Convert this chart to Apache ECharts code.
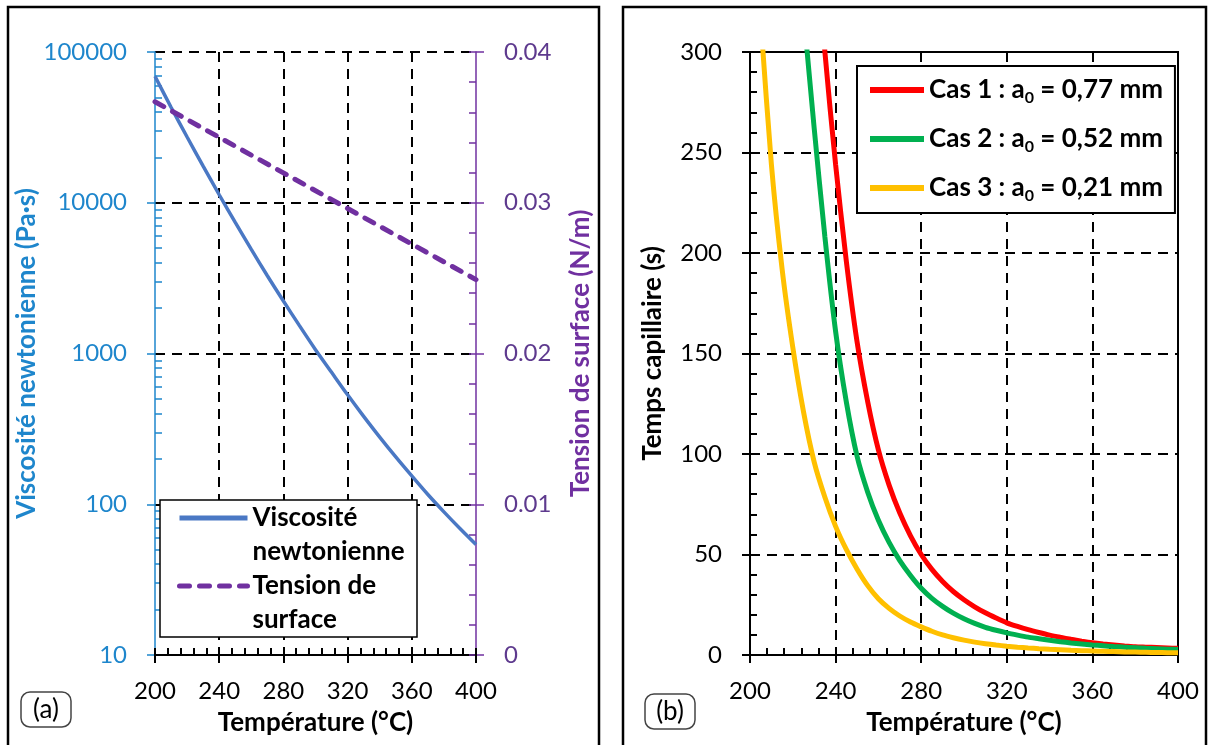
<!DOCTYPE html>
<html>
<head>
<meta charset="utf-8">
<script src="https://cdn.jsdelivr.net/npm/echarts@6/dist/echarts.min.js"></script>
<style>
html,body{margin:0;padding:0;background:#fff;}
#chart{width:1212px;height:745px;}
</style>
</head>
<body>
<div id="chart"></div>
<script>
// ---------- DATA ----------
// Panel (a)
const tempsA = [200,210,220,230,240,250,260,270,280,290,300,310,320,330,340,350,360,370,380,390,400];
const viscosite = [69000,43000,27300,17500,11300,7400,4900,3280,2230,1530,1060,750,532,383,279,206,154,116,89,69,54];
const tempsTension = [200,240,280,320,360,400];
const tension = [0.0367,0.03434,0.03198,0.02962,0.02726,0.0249];
// Panel (b)
const tempsB = [200,205,210,215,220,225,230,235,240,245,250,255,260,265,270,275,280,285,290,295,300,
                305,310,315,320,325,330,335,340,345,350,355,360,365,370,375,380,385,390,395,400];
const cas1 = [null,null,null,null,null,null,370,300,244,196,156,126,102,84.5,70.6,59.3,50,42.6,36.6,31.6,27.5,
              24.0,21.0,18.4,16.0,14.2,12.6,11.2,9.9,8.8,7.8,6.9,6.1,5.5,5.0,4.5,4.1,3.9,3.7,3.5,3.3];
const cas2 = [null,null,null,null,null,320,262,208,161,126,99,81,67,56,47,39.6,33.2,28.2,24.2,20.8,18.0,
              15.7,13.8,12.3,11.0,9.9,8.9,8.1,7.3,6.6,6.0,5.5,5.0,4.6,4.2,3.9,3.6,3.3,3.1,2.9,2.7];
const cas3 = [null,316,244,192,153,121,96,78.5,64,52.5,42.8,34.5,28,23.2,19.4,16.4,14.0,11.8,10.0,8.6,7.4,
              6.4,5.6,4.95,4.4,3.9,3.5,3.15,2.85,2.6,2.35,2.15,2.0,1.85,1.7,1.55,1.45,1.35,1.25,1.15,1.1];
const casNames = ['Cas 1','Cas 2','Cas 3'];
const casLabels = ['Cas 1 : a{sub|0} = 0,77 mm','Cas 2 : a{sub|0} = 0,52 mm','Cas 3 : a{sub|0} = 0,21 mm'];
const seriesA = ['Viscosité newtonienne','Tension de surface'];
const legendA = ['\nViscosité\nnewtonienne','\nTension de\nsurface'];
const xTicks = {min:200,max:400,interval:40};

// ---------- STYLE ----------
const FONT = 'Lato';
const BLUE = '#1e86cc';
const PURPLE = '#7030a0';
const pair = (xs, ys) => xs.map((x,i) => [x, ys[i]]);
const logMinor = [];
[10,100,1000,10000].forEach(d => { for (let k=2;k<=9;k++) logMinor.push(d*k); });

const gridA = {left:155, right:736, top:52, bottom:90};
const gridB = {left:750, right:34, top:52, bottom:90};
const labelStyle = {fontFamily:FONT, fontSize:24, color:'#000'};
const nameStyle = {fontFamily:FONT, fontSize:26, fontWeight:'bold', color:'#000'};
const gridDash = {show:true, lineStyle:{color:'#000', width:2, type:[10,7]}};

function mainX(grid){
  return {type:'value', gridIndex:grid, min:xTicks.min, max:xTicks.max, interval:xTicks.interval, position:'bottom',
    name:'Température (°C)', nameLocation:'middle', nameGap:55, nameTextStyle:nameStyle,
    axisLine:{show:true, onZero:false, lineStyle:{color:'#000', width:2}},
    axisTick:{show:true, inside:false, length:8, lineStyle:{color:'#000', width:2}},
    axisLabel:Object.assign({margin:24}, labelStyle),
    splitLine:Object.assign({showMinLine:false, showMaxLine:false}, gridDash)};
}
function overlayX(grid){
  return {type:'value', gridIndex:grid, min:xTicks.min, max:xTicks.max, interval:xTicks.interval, position:'bottom',
    axisLine:{show:false, onZero:false}, axisLabel:{show:false}, splitLine:{show:false},
    axisTick:{show:true, inside:true, length:7, lineStyle:{color:'#000', width:2}},
    minorTick:{show:true, splitNumber:5, length:7, lineStyle:{color:'#000', width:2}}};
}

const option = {
  animation:false,
  backgroundColor:'#fff',
  textStyle:{fontFamily:FONT},
  grid:[
    Object.assign({show:false}, gridA),
    Object.assign({show:true, borderColor:'#000', borderWidth:2, backgroundColor:'transparent'}, gridB)
  ],
  xAxis:[mainX(0), overlayX(0), mainX(1), overlayX(1)],
  yAxis:[
    {type:'log', logBase:10, gridIndex:0, min:10, max:100000, splitNumber:4, position:'left',
     name:'Viscosité newtonienne (Pa·s)', nameLocation:'middle', nameRotate:90, nameGap:105,
     nameTextStyle:Object.assign({}, nameStyle, {color:BLUE}),
     axisLine:{show:true, onZero:false, lineStyle:{color:BLUE, width:1.5}},
     axisTick:{show:true, inside:false, length:8, lineStyle:{color:BLUE, width:1.5}},
     axisLabel:Object.assign({}, labelStyle, {color:BLUE, margin:28, formatter:v => String(Math.round(v))}),
     splitLine:Object.assign({showMinLine:false}, gridDash)},
    {type:'log', logBase:10, gridIndex:0, min:10, max:100000, position:'left',
     axisLine:{show:false}, axisLabel:{show:false}, splitLine:{show:false},
     axisTick:{show:true, inside:true, length:7, customValues:logMinor, lineStyle:{color:BLUE, width:1.5}}},
    {type:'value', gridIndex:0, min:0, max:0.04, interval:0.01, position:'right',
     name:'Tension de surface (N/m)', nameLocation:'middle', nameRotate:90, nameGap:92,
     nameTextStyle:Object.assign({}, nameStyle, {color:PURPLE}),
     axisLine:{show:true, onZero:false, lineStyle:{color:PURPLE, width:1.5}},
     axisTick:{show:true, inside:false, length:8, lineStyle:{color:PURPLE, width:1.5}},
     axisLabel:Object.assign({}, labelStyle, {color:'#5e3a8e', margin:28}),
     splitLine:{show:false}},
    {type:'value', gridIndex:0, min:0, max:0.04, interval:0.01, position:'right',
     axisLine:{show:false}, axisLabel:{show:false}, splitLine:{show:false},
     axisTick:{show:true, inside:true, length:7, lineStyle:{color:PURPLE, width:1.5}},
     minorTick:{show:true, splitNumber:5, length:7, lineStyle:{color:PURPLE, width:1.5}}},
    {type:'value', gridIndex:1, min:0, max:300, interval:50, position:'left',
     name:'Temps capillaire (s)', nameLocation:'middle', nameRotate:90, nameGap:84, nameTextStyle:nameStyle,
     axisLine:{show:true, onZero:false, lineStyle:{color:'#000', width:2}},
     axisTick:{show:true, inside:false, length:8, lineStyle:{color:'#000', width:2}},
     axisLabel:Object.assign({margin:28}, labelStyle),
     splitLine:Object.assign({showMinLine:false, showMaxLine:false}, gridDash)},
    {type:'value', gridIndex:1, min:0, max:300, interval:50, position:'left',
     axisLine:{show:false}, axisLabel:{show:false}, splitLine:{show:false},
     axisTick:{show:true, inside:true, length:7, lineStyle:{color:'#000', width:2}},
     minorTick:{show:true, splitNumber:5, length:7, lineStyle:{color:'#000', width:2}}}
  ],
  legend:[
    {data:[{name:seriesA[0], lineStyle:{width:5}}, {name:seriesA[1], lineStyle:{width:5}}],
     orient:'vertical', left:177, top:467, padding:0, itemWidth:68, itemHeight:14, itemGap:-34,
     selectedMode:false, z:6, itemStyle:{opacity:0},
     formatter:n => legendA[seriesA.indexOf(n)],
     textStyle:{fontFamily:FONT, fontSize:26, fontWeight:'bold', color:'#000', lineHeight:34}},
    {data:casNames, orient:'vertical', left:857, top:66, padding:[8,12,9,10], itemWidth:54, itemHeight:14, itemGap:17,
     selectedMode:false, backgroundColor:'#fff', borderColor:'#000', borderWidth:2, itemStyle:{opacity:0},
     lineStyle:{width:6},
     formatter:n => casLabels[casNames.indexOf(n)],
     textStyle:{fontFamily:FONT, fontSize:26, fontWeight:'bold', color:'#000', lineHeight:32,
       rich:{sub:{fontFamily:FONT, fontSize:16, fontWeight:'bold', color:'#000', lineHeight:16, verticalAlign:'bottom'}}}}
  ],
  graphic:[
    {type:'rect', shape:{x:8, y:7, width:591, height:770}, style:{fill:'none', stroke:'#000', lineWidth:2.5}, z:10, silent:true},
    {type:'rect', shape:{x:623, y:7, width:583, height:770}, style:{fill:'none', stroke:'#000', lineWidth:2.5}, z:10, silent:true},
    {type:'rect', shape:{x:160, y:500, width:257, height:137}, style:{fill:'#fff', stroke:'#000', lineWidth:1.5}, z:5, silent:true},
    {type:'rect', shape:{x:21, y:692, width:50, height:35, r:9}, style:{fill:'#fff', stroke:'#444', lineWidth:1.5}, z:10, silent:true},
    {type:'text', x:46, y:710, style:{text:'(a)', font:'26px Lato', fill:'#000', align:'center', verticalAlign:'middle'}, z:11, silent:true},
    {type:'rect', shape:{x:645, y:694, width:50, height:35, r:9}, style:{fill:'#fff', stroke:'#444', lineWidth:1.5}, z:10, silent:true},
    {type:'text', x:670, y:712, style:{text:'(b)', font:'26px Lato', fill:'#000', align:'center', verticalAlign:'middle'}, z:11, silent:true}
  ],
  series:[
    {name:seriesA[0], type:'line', xAxisIndex:0, yAxisIndex:0, data:pair(tempsA, viscosite), smooth:0.3,
     symbol:'none', lineStyle:{color:'#4a78c4', width:3.5}, itemStyle:{color:'#4a78c4'}, z:3},
    {name:seriesA[1], type:'line', xAxisIndex:0, yAxisIndex:2, data:pair(tempsTension, tension),
     symbol:'none', lineStyle:{color:PURPLE, width:5, type:[10,10], cap:'round'}, itemStyle:{color:PURPLE}, z:3},
    {name:casNames[0], type:'line', xAxisIndex:2, yAxisIndex:4, data:pair(tempsB, cas1), smooth:0.25,
     symbol:'none', lineStyle:{color:'#ff0000', width:5}, itemStyle:{color:'#ff0000'}, clip:true, z:3},
    {name:casNames[1], type:'line', xAxisIndex:2, yAxisIndex:4, data:pair(tempsB, cas2), smooth:0.25,
     symbol:'none', lineStyle:{color:'#00b050', width:5}, itemStyle:{color:'#00b050'}, clip:true, z:3},
    {name:casNames[2], type:'line', xAxisIndex:2, yAxisIndex:4, data:pair(tempsB, cas3), smooth:0.25,
     symbol:'none', lineStyle:{color:'#ffc000', width:5}, itemStyle:{color:'#ffc000'}, clip:true, z:3}
  ]
};
const chart = echarts.init(document.getElementById('chart'), null, {renderer:'canvas'});
chart.setOption(option);
</script>
</body>
</html>
